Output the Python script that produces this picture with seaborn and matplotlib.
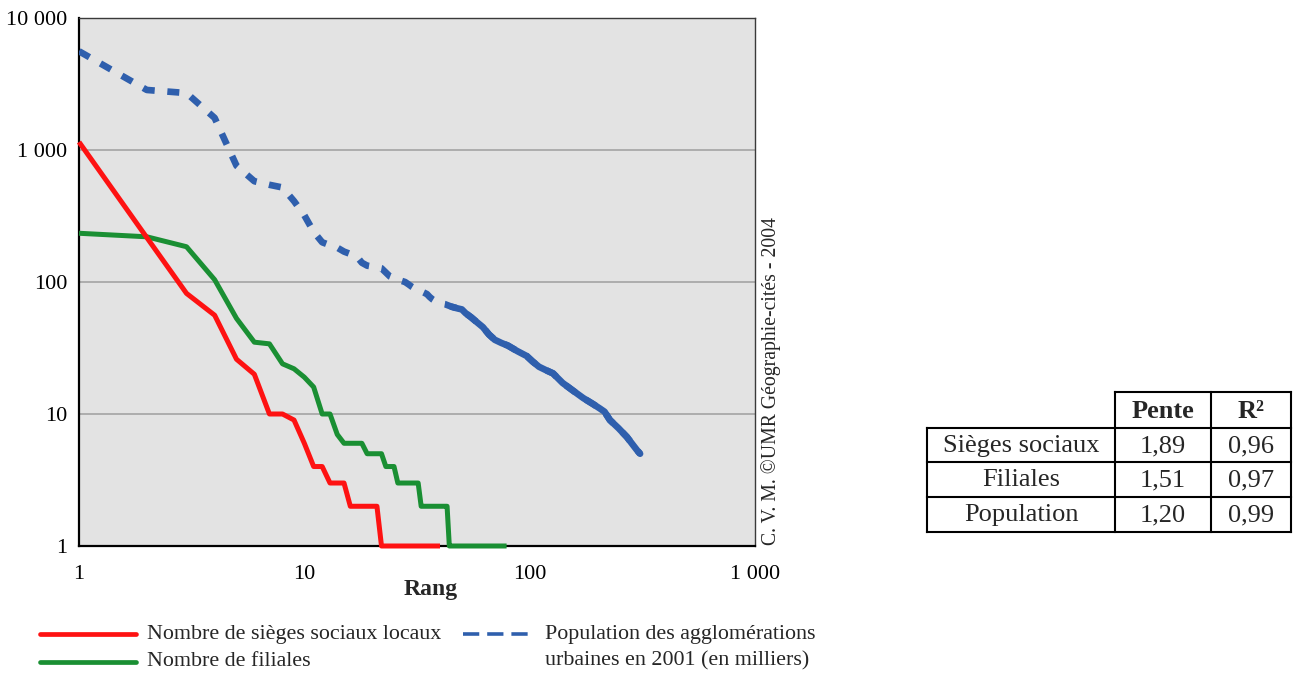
import numpy as np
import pandas as pd
import matplotlib
matplotlib.use("Agg")
import matplotlib.pyplot as plt
from matplotlib.lines import Line2D
from matplotlib.ticker import FixedLocator, FixedFormatter, NullLocator
import seaborn as sns

# ---------------- data ----------------
sieges_rang = list(range(1, 41))
sieges_val = [1150, 217, 82, 56, 26, 20, 10, 10, 9, 6, 4, 4, 3, 3, 3,
              2, 2, 2, 2, 2, 2] + [1] * 19

filiales_rang = list(range(1, 80))
filiales_val = ([234, 220, 185, 104, 53, 35, 34, 24, 22, 19, 16, 10, 10, 7]
                + [6] * 4 + [5] * 4 + [4] * 3 + [3] * 7 + [2] * 11 + [1] * 36)

pop_rang = [1, 2, 3, 4, 5, 6, 7, 8, 9, 10, 11, 12, 13, 14, 15, 16, 17, 18, 19, 20,
            21, 22, 23, 24, 25, 26, 27, 28, 29, 30, 31, 32, 33, 34, 35, 36, 37, 38, 39, 40,
            42, 45, 48, 50, 52, 55, 58, 62, 66, 70, 75, 80, 88, 97, 103, 110, 118, 127,
            140, 156, 173, 191, 205, 215, 227, 248, 270, 288, 300, 309]
pop_val = [5600, 2850, 2700, 1750, 760, 580, 545, 520, 410, 320, 240, 200, 190, 182, 170,
           163, 158, 140, 133, 131, 129, 127, 118, 110, 107, 104, 102, 100, 96, 92,
           89, 87, 85, 83, 81, 77, 74, 72, 70, 69,
           68, 65, 63, 62, 58, 54, 50, 45.5, 40, 36.5, 34.5, 33, 30, 27.5, 25, 22.8, 21.5,
           20.3, 17.2, 15, 13.2, 11.9, 11, 10.4, 9.0, 7.8, 6.7, 5.8, 5.3, 5.0]

x_ticks = [1, 10, 100, 1000]
x_ticklabels = ["1", "10", "100", "1 000"]
y_ticks = [1, 10, 100, 1000, 10000]
y_ticklabels = ["1", "10", "100", "1 000", "10 000"]

legend_labels = ["Nombre de sièges sociaux locaux", "Nombre de filiales",
                 "Population des agglomérations\nurbaines en 2001 (en milliers)"]
table_header = ["Pente", "R²"]
table_rows = ["Sièges sociaux", "Filiales", "Population"]
table_pente = ["1,89", "1,51", "1,20"]
table_r2 = ["0,96", "0,97", "0,99"]
credit = "C. V. M. ©UMR Géographie-cités - 2004"

# ---------------- style ----------------
sns.set_style("white")
plt.rcParams["font.family"] = ["Liberation Serif", "DejaVu Serif"]

RED = "#fe1212"
GREEN = "#1a8f33"
BLUE = "#2f5fad"

W, H = 1296, 673
fig = plt.figure(figsize=(W / 100, H / 100), dpi=100)


def fx(x):
    return x / W


def fy(y):
    return 1 - y / H


L, R, T, B = 79, 755, 18, 546
ax = fig.add_axes([fx(L), fy(B), (R - L) / W, (B - T) / H])
ax.set_facecolor("#e3e3e3")
ax.set_xscale("log")
ax.set_yscale("log")
ax.set_xlim(1, 1000)
ax.set_ylim(1, 10000)

df_s = pd.DataFrame({"rang": sieges_rang, "val": sieges_val})
df_f = pd.DataFrame({"rang": filiales_rang, "val": filiales_val})
df_p = pd.DataFrame({"rang": pop_rang, "val": pop_val})

sns.lineplot(data=df_f, x="rang", y="val", ax=ax, color=GREEN, linewidth=3.6,
             clip_on=False, zorder=3, solid_joinstyle="round", solid_capstyle="butt")
sns.lineplot(data=df_s, x="rang", y="val", ax=ax, color=RED, linewidth=3.6,
             clip_on=False, zorder=3.1, solid_joinstyle="round", solid_capstyle="butt")
sns.lineplot(data=df_p, x="rang", y="val", ax=ax, color=BLUE, linewidth=4.8,
             dashes=(1.8, 1.9), dash_capstyle="butt", zorder=3.2)
sns.lineplot(data=df_p[df_p["rang"] >= 45], x="rang", y="val", ax=ax, color=BLUE,
             linewidth=4.8, zorder=3.2, solid_joinstyle="round")

ax.set_xlabel("")
ax.set_ylabel("")
ax.xaxis.set_major_locator(FixedLocator(x_ticks))
ax.xaxis.set_major_formatter(FixedFormatter(x_ticklabels))
ax.xaxis.set_minor_locator(NullLocator())
ax.yaxis.set_major_locator(FixedLocator(y_ticks))
ax.yaxis.set_major_formatter(FixedFormatter(y_ticklabels))
ax.yaxis.set_minor_locator(NullLocator())
ax.set_xlim(1, 1000)
ax.set_ylim(1, 10000)

ax.yaxis.grid(True, color="#a9a9a9", linewidth=1.3)
ax.xaxis.grid(False)
ax.set_axisbelow(True)

ax.tick_params(axis="both", which="major", direction="out", length=4.5, width=1.1,
               color="#555555", labelsize=16, labelcolor="black")
ax.tick_params(axis="x", pad=9)
ax.tick_params(axis="y", pad=4)

for side in ["left", "bottom"]:
    ax.spines[side].set_color("black")
    ax.spines[side].set_linewidth(1.6)
for side in ["top", "right"]:
    ax.spines[side].set_color("#3a3a3a")
    ax.spines[side].set_linewidth(1.0)
ax.spines["bottom"].set_zorder(2.5)

ax.text((431 - L) / (R - L), -(590 - B) / (B - T), "Rang", transform=ax.transAxes,
        ha="center", va="center", fontsize=17, fontweight="bold")

if ax.get_legend() is not None:
    ax.get_legend().remove()

# credit text
fig.text(fx(771), fy(381), credit, rotation=90, ha="center", va="center", fontsize=14.2)

# ---------------- manual legend ----------------
fig.add_artist(Line2D([fx(40), fx(136)], [fy(634), fy(634)], color=RED, lw=3.4,
                      transform=fig.transFigure))
fig.add_artist(Line2D([fx(40), fx(136)], [fy(662), fy(662)], color=GREEN, lw=3.4,
                      transform=fig.transFigure))
fig.add_artist(Line2D([fx(463), fx(533)], [fy(634), fy(634)], color=BLUE, lw=2.6,
                      dashes=(4.5, 2.2), dash_capstyle="butt", transform=fig.transFigure))
fig.text(fx(147), fy(634), legend_labels[0], ha="left", va="center", fontsize=15.8)
fig.text(fx(147), fy(662), legend_labels[1], ha="left", va="center", fontsize=15.8)
lines3 = legend_labels[2].split("\n")
fig.text(fx(545), fy(634), lines3[0], ha="left", va="center", fontsize=15.8)
fig.text(fx(545), fy(661), lines3[1], ha="left", va="center", fontsize=15.8)

# ---------------- table ----------------
tx = [927, 1115, 1211, 1291]
ty = [392, 428, 462, 497, 532]
tlw = 1.5


def hline(x0, x1, y):
    fig.add_artist(Line2D([fx(x0), fx(x1)], [fy(y), fy(y)], color="black", lw=tlw,
                          transform=fig.transFigure, solid_capstyle="projecting"))


def vline(x, y0, y1):
    fig.add_artist(Line2D([fx(x), fx(x)], [fy(y0), fy(y1)], color="black", lw=tlw,
                          transform=fig.transFigure, solid_capstyle="projecting"))


hline(tx[1], tx[3], ty[0])
for yy in ty[1:]:
    hline(tx[0], tx[3], yy)
vline(tx[0], ty[1], ty[4])
for xx in tx[1:]:
    vline(xx, ty[0], ty[4])

cx = [(tx[i] + tx[i + 1]) / 2 for i in range(3)]
cy = [(ty[i] + ty[i + 1]) / 2 + 1 for i in range(4)]
for j, h in enumerate(table_header):
    fig.text(fx(cx[j + 1]), fy(cy[0]), h, ha="center", va="center",
             fontsize=19, fontweight="bold")
for i in range(len(table_rows)):
    fig.text(fx(cx[0]), fy(cy[i + 1]), table_rows[i], ha="center", va="center", fontsize=19)
    fig.text(fx(cx[1]), fy(cy[i + 1]), table_pente[i], ha="center", va="center", fontsize=19)
    fig.text(fx(cx[2]), fy(cy[i + 1]), table_r2[i], ha="center", va="center", fontsize=19)

fig.savefig("out.png", dpi=100, facecolor="white")
